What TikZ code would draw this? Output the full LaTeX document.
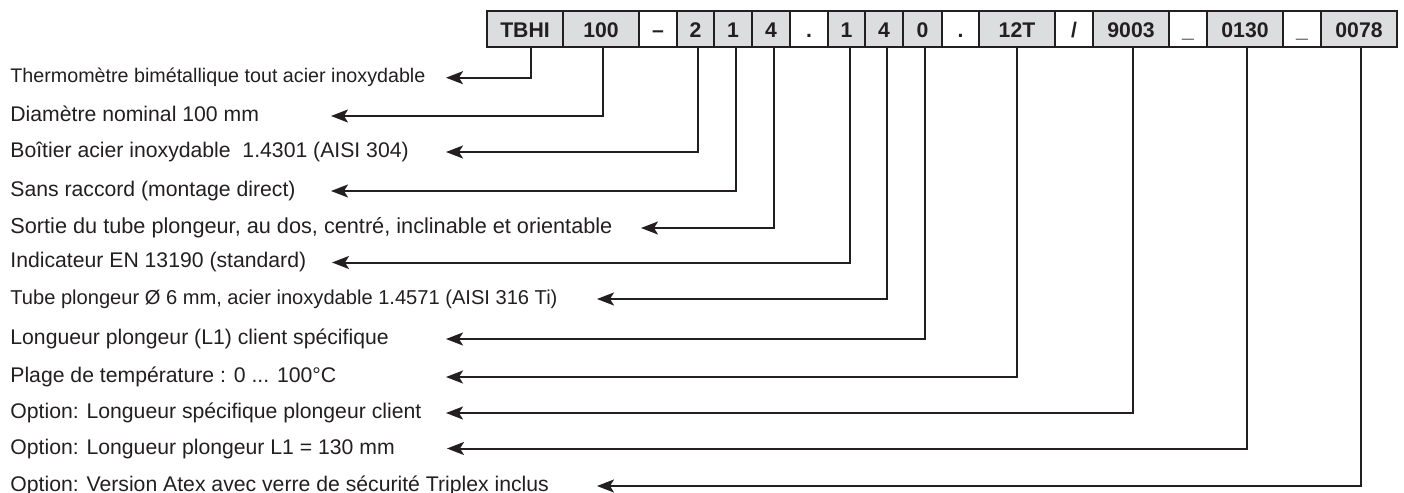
\documentclass[tikz,border=0pt]{standalone}
\usepackage{fontspec}
\setmainfont{Liberation Sans}
\usetikzlibrary{arrows.meta}
\definecolor{ink}{HTML}{231F20}
\definecolor{cellgrey}{HTML}{DCDDDE}
\newcommand\codecell[5]{\node[cellbase,fill=#5,minimum width={(#3-#2)*0.5pt}] (#1) at ({(#2+#3)/2},29.4) {#4};}
\begin{document}
\begin{tikzpicture}[x=0.5pt,y=-0.5pt,
  cellbase/.style={draw=ink,line width=1pt,inner sep=0pt,minimum height=18pt,
    text height=7.6pt,text depth=0pt,
    text=ink,font=\fontsize{10.6pt}{12pt}\selectfont\bfseries},
  lbl/.style={anchor=base west,inner sep=0pt,text=ink,font=\fontsize{10.6pt}{12pt}\selectfont},
  conn/.style={draw=ink,line width=1pt,-{Stealth[length=8.5pt,width=6.5pt,inset=2pt]}}]
\useasboundingbox (0,0) rectangle (1404,493);
% code cells
\codecell{cA}{487}{563}{TBHI}{cellgrey}
\codecell{cB}{563}{639}{100}{cellgrey}
\codecell{s1}{639}{677}{–}{white}
\codecell{cC}{677}{714}{2}{cellgrey}
\codecell{cD}{714}{752}{1}{cellgrey}
\codecell{cE}{752}{790}{4}{cellgrey}
\codecell{s2}{790}{828}{.}{white}
\codecell{cF}{828}{865}{1}{cellgrey}
\codecell{cG}{865}{903}{4}{cellgrey}
\codecell{cH}{903}{942}{0}{cellgrey}
\codecell{s3}{942}{979}{.}{white}
\codecell{cI}{979}{1055}{12T}{cellgrey}
\codecell{s4}{1055}{1093}{/}{white}
\codecell{cJ}{1093}{1169}{9003}{cellgrey}
\codecell{s5}{1169}{1207}{\symbol{95}}{white}
\codecell{cK}{1207}{1283}{0130}{cellgrey}
\codecell{s6}{1283}{1321}{\symbol{95}}{white}
\codecell{cL}{1321}{1397}{0078}{cellgrey}
% labels
\node[lbl,font=\fontsize{9.85pt}{12pt}\selectfont] (l1) at (10,82.7) {Thermomètre bimétallique tout acier inoxydable};
\node[lbl] (l2) at (10,121) {Diamètre nominal 100 mm};
\node[lbl] (l3) at (10,157) {Boîtier acier inoxydable\ \ 1.4301 (AISI 304)};
\node[lbl] (l4) at (10,196) {Sans raccord (montage direct)};
\node[lbl,font=\fontsize{10.85pt}{12pt}\selectfont] (l5) at (10,233) {Sortie du tube plongeur, au dos, centré, inclinable et orientable};
\node[lbl] (l6) at (10,267) {Indicateur EN 13190 (standard)};
\node[lbl,font=\fontsize{10.05pt}{12pt}\selectfont] (l7) at (10,304) {Tube plongeur Ø 6 mm, acier inoxydable 1.4571 (AISI 316 Ti)};
\node[lbl] (l8) at (10,344) {Longueur plongeur (L1) client spécifique};
\node[lbl] (l9) at (10,382) {Plage de température : 0 ... 100°C};
\node[lbl] (l10) at (10,418) {Option: Longueur spécifique plongeur client};
\node[lbl] (l11) at (10,454) {Option: Longueur plongeur L1 = 130 mm};
\node[lbl] (l12) at (10,491) {Option: Version Atex avec verre de sécurité Triplex inclus};
% arrow tips
\coordinate (t1) at (446,77.7);
\coordinate (t2) at (331,116);
\coordinate (t3) at (446,152);
\coordinate (t4) at (331,191);
\coordinate (t5) at (641,228);
\coordinate (t6) at (332,262.5);
\coordinate (t7) at (597,299);
\coordinate (t8) at (446,339);
\coordinate (t9) at (446,377);
\coordinate (t10) at (446,413);
\coordinate (t11) at (447,448.5);
\coordinate (t12) at (597,486);
% connectors
\draw[conn] (cA.south -| 530.7,0) |- (t1);
\draw[conn] (cB.south -| 603,0) |- (t2);
\draw[conn] (cC.south -| 698,0) |- (t3);
\draw[conn] (cD.south -| 736,0) |- (t4);
\draw[conn] (cE.south -| 773.5,0) |- (t5);
\draw[conn] (cF.south -| 850,0) |- (t6);
\draw[conn] (cG.south -| 887,0) |- (t7);
\draw[conn] (cH.south -| 925,0) |- (t8);
\draw[conn] (cI.south -| 1017,0) |- (t9);
\draw[conn] (cJ.south -| 1132.5,0) |- (t10);
\draw[conn] (cK.south -| 1246.7,0) |- (t11);
\draw[conn] (cL.south -| 1360.5,0) |- (t12);
\end{tikzpicture}
\end{document}
